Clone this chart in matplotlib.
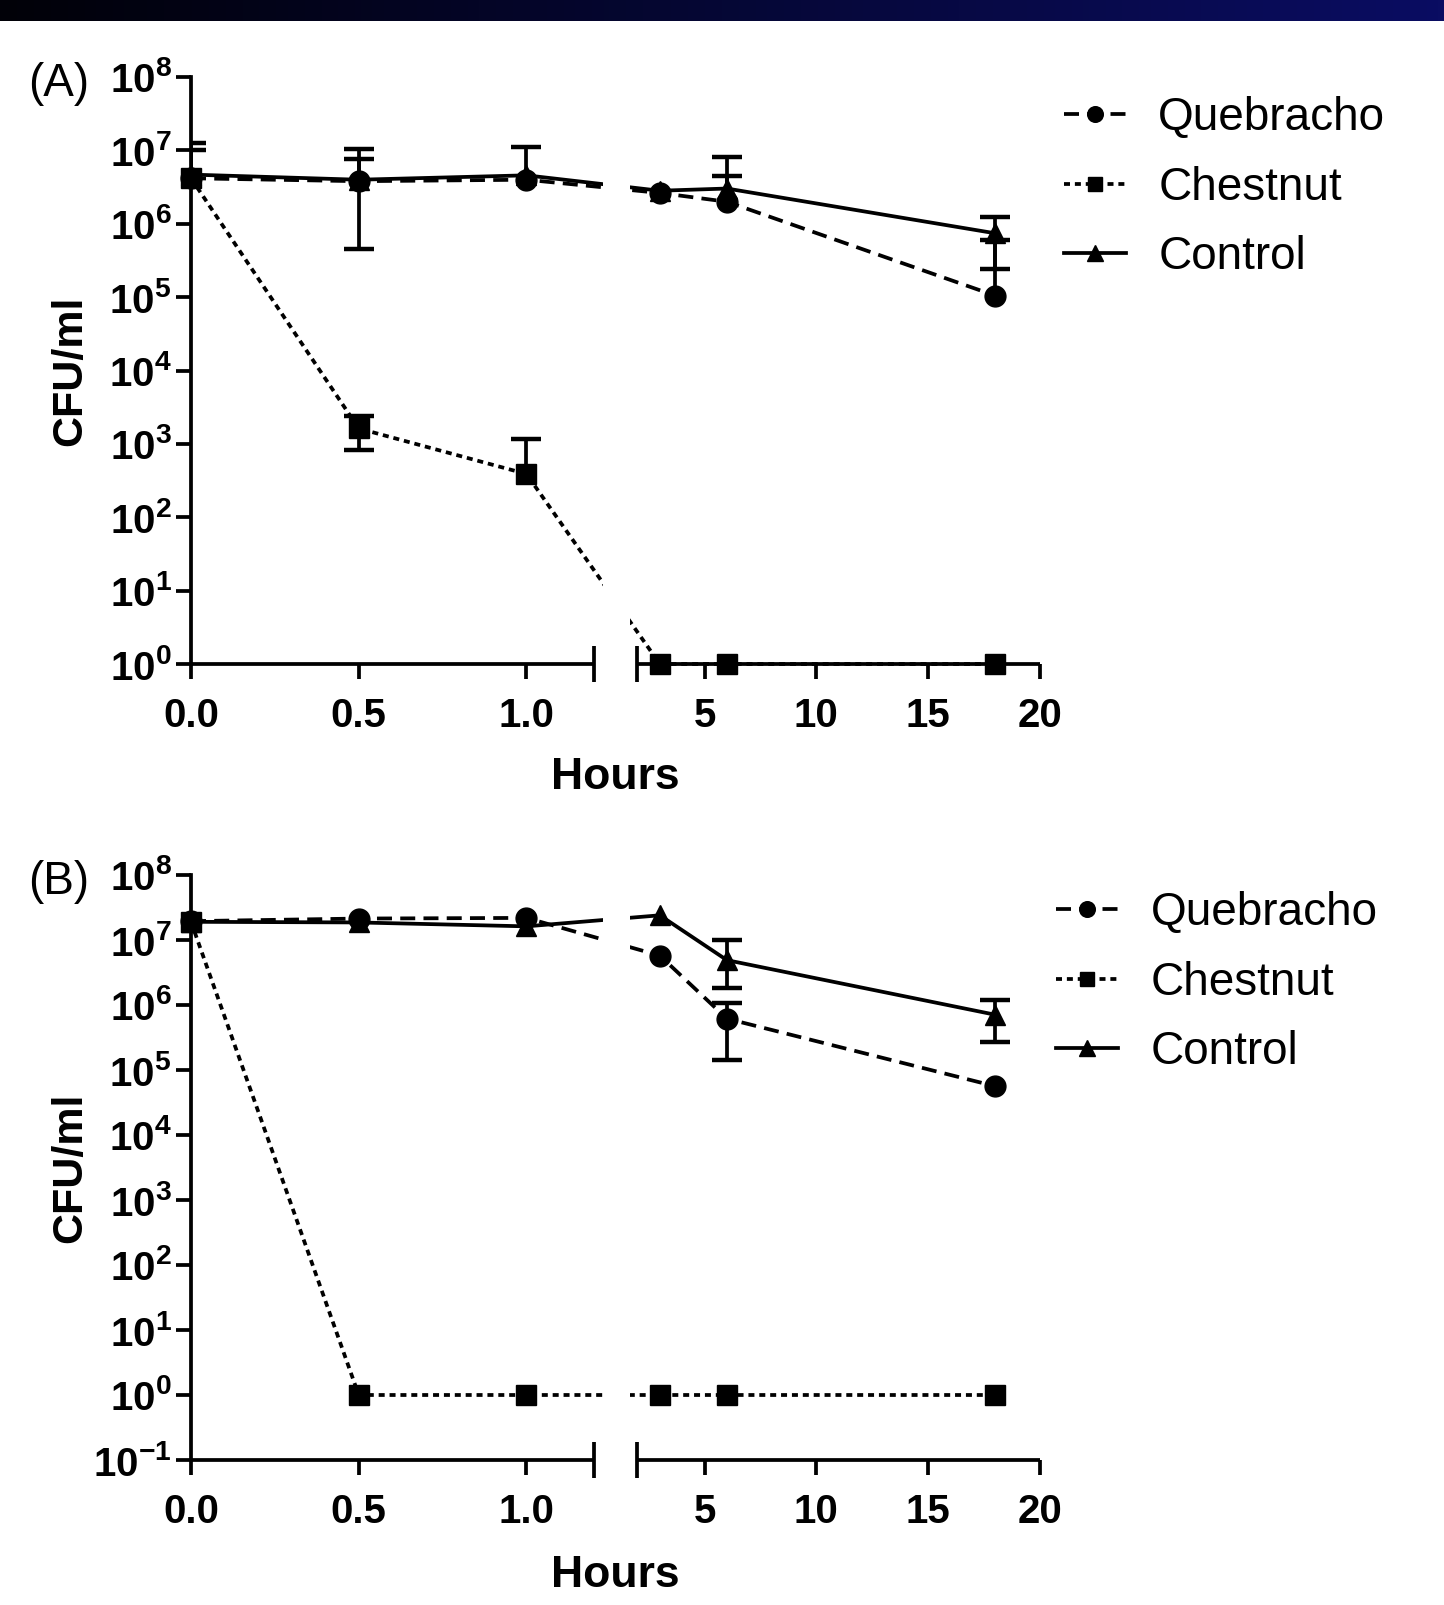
import numpy as np
import matplotlib
matplotlib.use("Agg")
import matplotlib.pyplot as plt
from matplotlib.colors import LinearSegmentedColormap
from matplotlib.ticker import NullLocator, FuncFormatter, LogLocator

plt.rcParams["font.family"] = ["Liberation Sans", "DejaVu Sans"]
plt.rcParams["mathtext.fontset"] = "custom"
plt.rcParams["mathtext.rm"] = "Liberation Sans:bold"
plt.rcParams["mathtext.bf"] = "Liberation Sans:bold"

nan = np.nan

# sampling times (hours) and axis ticks
HOURS = [0, 0.5, 1, 3, 6, 18]
X_TICKS = [0, 0.5, 1, 5, 10, 15, 20]
X_TICK_LABELS = ["0.0", "0.5", "1.0", "5", "10", "15", "20"]
SERIES = ["Quebracho", "Chestnut", "Control"]

# panel A -- log10 CFU/ml: mean, top of error bar, bottom of error bar
quebracho_a = [6.62, 6.58, 6.60, 6.42, 6.30, 5.02]
quebracho_a_hi = [7.00, 6.88, 7.05, nan, 6.65, 5.78]
quebracho_a_lo = [nan, 5.66, nan, nan, nan, nan]
chestnut_a = [6.62, 3.21, 2.59, 0, 0, 0]
chestnut_a_hi = [nan, 3.38, 3.07, nan, nan, nan]
chestnut_a_lo = [nan, 2.92, nan, nan, nan, nan]
control_a = [6.67, 6.60, 6.66, 6.45, 6.48, 5.87]
control_a_hi = [7.10, 7.02, nan, nan, 6.91, 6.09]
control_a_lo = [nan, nan, nan, nan, nan, 5.39]

# panel B
quebracho_b = [7.29, 7.33, 7.34, 6.76, 5.79, 4.75]
quebracho_b_hi = [nan, nan, nan, nan, 6.03, nan]
quebracho_b_lo = [nan, nan, nan, nan, 5.15, nan]
chestnut_b = [7.28, 0, 0, 0, 0, 0]
chestnut_b_hi = [nan] * 6
chestnut_b_lo = [nan] * 6
control_b = [7.28, 7.27, 7.21, 7.38, 6.69, 5.85]
control_b_hi = [nan, nan, nan, nan, 7.00, 6.08]
control_b_lo = [nan, nan, nan, nan, 6.26, 5.43]

# broken x axis: 0-1.2 h and 2-20 h get equal widths, small gap between
BREAK = (1.2, 2.0)
GAP = 0.131


def fwd(x):
    x = np.asarray(x, float)
    return np.where(x <= BREAK[0], x,
                    np.where(x <= BREAK[1], BREAK[0] + (x - BREAK[0]) / 0.8 * GAP,
                             BREAK[0] + GAP + (x - BREAK[1]) / 15.0))


def inv(y):
    y = np.asarray(y, float)
    return np.where(y <= BREAK[0], y,
                    np.where(y <= BREAK[0] + GAP, BREAK[0] + (y - BREAK[0]) / GAP * 0.8,
                             BREAK[1] + (y - BREAK[0] - GAP) * 15.0))


STYLE = {
    "Quebracho": dict(marker="o", ms=15, ls=(0, (4, 2.2))),
    "Chestnut": dict(marker="s", ms=14, ls=(0, (1.6, 1.3))),
    "Control": dict(marker="^", ms=15, ls="-"),
}
LW = 2.7


def draw_panel(ax, data, ymin, legend_anchor, label_y):
    ax.set_xscale("function", functions=(fwd, inv))
    ax.set_yscale("log")
    ax.set_xlim(0, 20)
    ax.set_ylim(ymin, 1e8)

    for name in ["Chestnut", "Quebracho", "Control"]:
        mean, hi, lo = data[name]
        st = STYLE[name]
        ax.plot(HOURS, 10.0 ** np.asarray(mean), color="k", lw=LW, ls=st["ls"],
                marker=st["marker"], ms=st["ms"], label=name, clip_on=False, zorder=2)
        for h, m, top, bot in zip(HOURS, mean, hi, lo):
            for end in (top, bot):
                if np.isnan(end):
                    continue
                ax.plot([h, h], [10.0 ** m, 10.0 ** end], color="k", lw=LW,
                        solid_capstyle="butt", zorder=2)
                ax.plot([h], [10.0 ** end], marker="_", ms=21, mew=3.2, color="k", zorder=2)

    # blank the lines inside the axis break
    ax.axvspan(1.37, 1.87, color="white", lw=0, zorder=2.2)

    for s in ("top", "right", "bottom"):
        ax.spines[s].set_visible(False)
    ax.spines["left"].set_linewidth(LW)
    for a, b in ((0, BREAK[0]), (BREAK[1], 20)):
        ax.plot([a, b], [0, 0], transform=ax.get_xaxis_transform(), color="k",
                lw=LW, clip_on=False, solid_capstyle="butt", zorder=3)

    ax.set_xticks(X_TICKS, X_TICK_LABELS, fontsize=29, fontweight="bold")
    ax.set_xticks(BREAK, minor=True)
    ax.tick_params(axis="x", which="major", direction="out", length=11, width=LW, pad=12.5)
    ax.tick_params(axis="x", which="minor", direction="inout", length=26, width=LW)
    ax.yaxis.set_major_locator(LogLocator(base=10, numticks=20))
    ax.yaxis.set_minor_locator(NullLocator())
    ax.yaxis.set_major_formatter(FuncFormatter(
        lambda v, p: r"$\mathbf{10^{%d}}$" % round(np.log10(v))))
    ax.tick_params(axis="y", which="major", direction="out", length=11, width=LW,
                   labelsize=29, pad=3)

    ax.set_xlabel("Hours", fontsize=32, fontweight="bold")
    ax.xaxis.label.set_va("center")
    ax.xaxis.set_label_coords(0.5, label_y)
    ax.set_ylabel("CFU/ml", fontsize=31, fontweight="bold")
    ax.yaxis.label.set_va("center")
    ax.yaxis.set_label_coords(-0.142, 0.5)

    h, l = ax.get_legend_handles_labels()
    order = [l.index(n) for n in SERIES]
    ax.legend([h[i] for i in order], [l[i] for i in order], loc="upper left",
              bbox_to_anchor=legend_anchor, frameon=False, fontsize=33,
              handlelength=1.36, handletextpad=0.7, labelspacing=0.55,
              borderpad=0, borderaxespad=0, markerscale=0.75)


W, H = 1444, 1605
fig = plt.figure(figsize=(W / 100, H / 100), dpi=100)

# dark title band along the top
band = fig.add_axes([0, 1 - 21 / H, 1, 21 / H])
band.imshow(np.linspace(0, 1, 256)[None, :], aspect="auto",
            cmap=LinearSegmentedColormap.from_list("band", ["#010108", "#0a0d62"]))
band.axis("off")

ax_a = fig.add_axes([191 / W, 1 - 664 / H, 849 / W, 587 / H])
draw_panel(ax_a, {
    "Quebracho": (quebracho_a, quebracho_a_hi, quebracho_a_lo),
    "Chestnut": (chestnut_a, chestnut_a_hi, chestnut_a_lo),
    "Control": (control_a, control_a_hi, control_a_lo),
}, 1, (1.028, 0.967), -0.194)

ax_b = fig.add_axes([191 / W, 1 - 1460 / H, 849 / W, 585 / H])
draw_panel(ax_b, {
    "Quebracho": (quebracho_b, quebracho_b_hi, quebracho_b_lo),
    "Chestnut": (chestnut_b, chestnut_b_hi, chestnut_b_lo),
    "Control": (control_b, control_b_hi, control_b_lo),
}, 0.1, (1.019, 0.972), -0.197)

fig.text(28 / W, 1 - 84 / H, "(A)", fontsize=33, va="center")
fig.text(28 / W, 1 - 882 / H, "(B)", fontsize=33, va="center")

fig.savefig("out.png", dpi=100, facecolor="white")
